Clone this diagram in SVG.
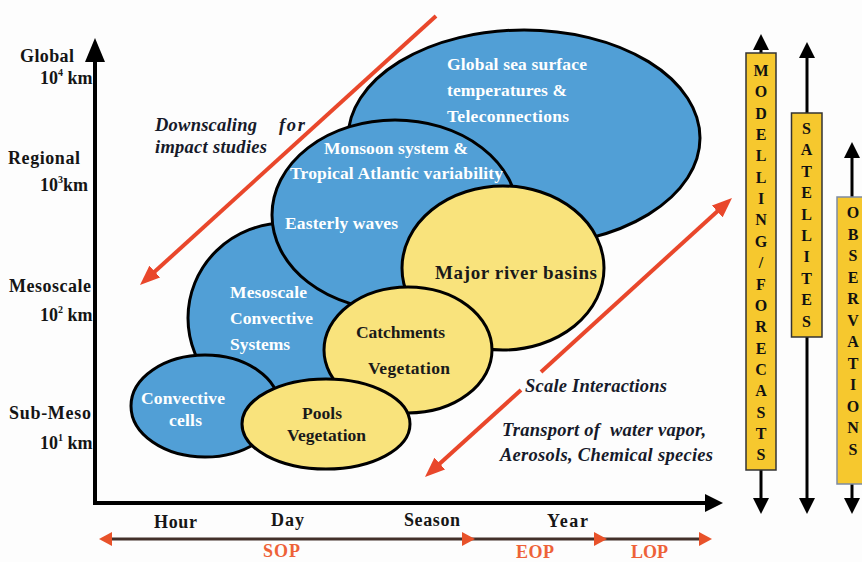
<svg xmlns="http://www.w3.org/2000/svg" width="862" height="562" viewBox="0 0 862 562">
<style>
text{font-family:"Liberation Serif","Times New Roman",serif;font-weight:bold}
.ax{font-size:18px;fill:#151515}
.sup{font-size:10px}
.wt{font-size:17.5px;fill:#ffffff}
.dk{font-size:17.5px;fill:#1a1a1a}
.it{font-size:18.5px;font-style:italic;fill:#161a2a}
.tm{font-size:18px;fill:#161616}
.pe{font-size:18px;fill:#ee6238}
.ltr{font-size:16px;fill:#111;text-anchor:middle}
.blue{fill:#519fd6;stroke:#000;stroke-width:3}
.yel{fill:#f9e37c;stroke:#000;stroke-width:3}
.bar{fill:#f6c82e;stroke:#333;stroke-width:1.5}
.red{stroke:#e9472b;stroke-width:4;fill:none}
.blk{stroke:#000;stroke-width:3;fill:none}
.axis{stroke:#000;stroke-width:4;fill:none}
</style>
<defs>
<marker id="ra" viewBox="0 0 20 16" refX="10" refY="8" markerWidth="20" markerHeight="16" markerUnits="userSpaceOnUse" orient="auto-start-reverse"><path d="M0,0 L20,8 L0,16 z" fill="#e9472b"/></marker>
<marker id="ka" viewBox="0 0 16 16" refX="6" refY="8" markerWidth="16" markerHeight="16" markerUnits="userSpaceOnUse" orient="auto-start-reverse"><path d="M0,0 L16,8 L0,16 z" fill="#000"/></marker>
</defs>
<rect width="862" height="562" fill="#fdfdfd"/>

<g id="axes">
<line class="axis" x1="95" y1="505" x2="95" y2="58"/>
<polygon points="85,62 95,38 105,62" fill="#000"/>
<line class="axis" x1="93" y1="503" x2="710" y2="503"/>
<polygon points="705,494 723,503 705,512" fill="#000"/>
</g>

<g id="y-labels">
<text class="ax" x="20" y="62" textLength="54">Global</text>
<text class="ax" x="40" y="84">10<tspan class="sup" dy="-8">4</tspan><tspan dy="8"> km</tspan></text>
<text class="ax" x="8" y="164" textLength="72">Regional</text>
<text class="ax" x="40" y="191">10<tspan class="sup" dy="-8">3</tspan><tspan dy="8">km</tspan></text>
<text class="ax" x="9" y="292" textLength="82">Mesoscale</text>
<text class="ax" x="40" y="321">10<tspan class="sup" dy="-8">2</tspan><tspan dy="8"> km</tspan></text>
<text class="ax" x="9" y="419" textLength="82">Sub-Meso</text>
<text class="ax" x="40" y="449">10<tspan class="sup" dy="-8">1</tspan><tspan dy="8"> km</tspan></text>
</g>

<g id="x-labels">
<text class="tm" x="154" y="528" textLength="43">Hour</text>
<text class="tm" x="271" y="526" textLength="33">Day</text>
<text class="tm" x="404" y="526" textLength="56">Season</text>
<text class="tm" x="547" y="527" textLength="41">Year</text>
</g>

<g id="periods">
<line x1="110" y1="539" x2="700" y2="539" stroke="#43302a" stroke-width="3"/>
<polygon points="99,539 112,532 112,546" fill="#e8522a"/>
<polygon points="462,532 475,539 462,546" fill="#e8522a"/>
<polygon points="594,532 607,539 594,546" fill="#e8522a"/>
<polygon points="699,532 712,539 699,546" fill="#e8522a"/>
<text class="pe" x="263" y="557" textLength="37">SOP</text>
<text class="pe" x="516" y="558" textLength="38">EOP</text>
<text class="pe" x="631" y="558" textLength="37">LOP</text>
</g>

<g id="global"><ellipse class="blue" cx="524" cy="138" rx="176" ry="108"/>
<text class="wt" x="447" y="70" textLength="140">Global sea surface</text>
<text class="wt" x="447" y="96" textLength="120">temperatures &amp;</text>
<text class="wt" x="447" y="122" textLength="122">Teleconnections</text></g>

<g id="mesoscale"><ellipse class="blue" cx="285" cy="318" rx="97" ry="95"/>
<text class="wt" x="230" y="298" textLength="77">Mesoscale</text>
<text class="wt" x="230" y="324" textLength="83">Convective</text>
<text class="wt" x="230" y="350" textLength="60">Systems</text></g>

<g id="monsoon"><ellipse class="blue" cx="395" cy="215" rx="123" ry="95"/>
<text class="wt" x="324" y="154" textLength="144">Monsoon system &amp;</text>
<text class="wt" x="290" y="179" textLength="213">Tropical Atlantic variability</text>
<text class="wt" x="285" y="229" textLength="113">Easterly waves</text></g>

<g id="cells"><ellipse class="blue" cx="205" cy="406" rx="74" ry="51"/>
<text class="wt" x="141" y="404" textLength="84">Convective</text>
<text class="wt" x="169" y="426" textLength="33">cells</text></g>

<g id="river"><ellipse class="yel" cx="503" cy="268" rx="101" ry="82"/>
<text class="dk" x="435" y="279" style="font-size:19px" textLength="162">Major river basins</text></g>

<g id="catchments"><ellipse class="yel" cx="408" cy="350" rx="84" ry="63"/>
<text class="dk" x="356" y="338" textLength="89">Catchments</text>
<text class="dk" x="368" y="374" textLength="82">Vegetation</text></g>

<g id="pools"><ellipse class="yel" cx="326" cy="424" rx="84" ry="45"/>
<text class="dk" x="302" y="419" textLength="40">Pools</text>
<text class="dk" x="287" y="441" textLength="79">Vegetation</text></g>

<g id="connectors">
<line class="red" x1="436" y1="16" x2="147.4" y2="278.3" marker-end="url(#ra)"/>
<line class="red" x1="724.6" y1="204.7" x2="541" y2="372" marker-start="url(#ra)"/>
<line class="red" x1="521" y1="390" x2="432.4" y2="470.3" marker-end="url(#ra)"/>
<line class="blk" x1="761" y1="53" x2="761" y2="44" marker-end="url(#ka)"/>
<line class="blk" x1="761" y1="470" x2="761" y2="504" marker-end="url(#ka)"/>
<line class="blk" x1="807" y1="113" x2="807" y2="52" marker-end="url(#ka)"/>
<line class="blk" x1="807" y1="337" x2="807" y2="504" marker-end="url(#ka)"/>
<line class="blk" x1="852" y1="197" x2="852" y2="152" marker-end="url(#ka)"/>
<line class="blk" x1="852" y1="484" x2="852" y2="504" marker-end="url(#ka)"/>
</g>

<g id="downscaling">
<text class="it" x="155" y="131" textLength="102">Downscaling</text>
<text class="it" x="279" y="131" textLength="26">for</text>
<text class="it" x="155" y="153" textLength="112">impact studies</text>
</g>

<g id="interactions">
<text class="it" x="525" y="392" textLength="142">Scale Interactions</text>
<text class="it" x="502" y="436" textLength="204" xml:space="preserve">Transport of  water vapor,</text>
<text class="it" x="500" y="461" textLength="213">Aerosols, Chemical species</text>
</g>

<g id="modelling">
<rect class="bar" x="746" y="53" width="30" height="417"/>
<text class="ltr" x="761" y="76"><tspan x="761">M</tspan><tspan x="761" dy="21.35">O</tspan><tspan x="761" dy="21.35">D</tspan><tspan x="761" dy="21.35">E</tspan><tspan x="761" dy="21.35">L</tspan><tspan x="761" dy="21.35">L</tspan><tspan x="761" dy="21.35">I</tspan><tspan x="761" dy="21.35">N</tspan><tspan x="761" dy="21.35">G</tspan><tspan x="761" dy="21.35">/</tspan><tspan x="761" dy="21.35">F</tspan><tspan x="761" dy="21.35">O</tspan><tspan x="761" dy="21.35">R</tspan><tspan x="761" dy="21.35">E</tspan><tspan x="761" dy="21.35">C</tspan><tspan x="761" dy="21.35">A</tspan><tspan x="761" dy="21.35">S</tspan><tspan x="761" dy="21.35">T</tspan><tspan x="761" dy="21.35">S</tspan></text>
</g>

<g id="satellites">
<rect class="bar" x="791.5" y="113" width="30.5" height="224"/>
<text class="ltr" x="806.5" y="134"><tspan x="806.5">S</tspan><tspan x="806.5" dy="21.4">A</tspan><tspan x="806.5" dy="21.4">T</tspan><tspan x="806.5" dy="21.4">E</tspan><tspan x="806.5" dy="21.4">L</tspan><tspan x="806.5" dy="21.4">L</tspan><tspan x="806.5" dy="21.4">I</tspan><tspan x="806.5" dy="21.4">T</tspan><tspan x="806.5" dy="21.4">E</tspan><tspan x="806.5" dy="21.4">S</tspan></text>
</g>

<g id="observations">
<rect class="bar" x="837" y="197" width="32" height="287" style="stroke:#7d8ba2"/>
<text class="ltr" x="853" y="218"><tspan x="853">O</tspan><tspan x="853" dy="21.5">B</tspan><tspan x="853" dy="21.5">S</tspan><tspan x="853" dy="21.5">E</tspan><tspan x="853" dy="21.5">R</tspan><tspan x="853" dy="21.5">V</tspan><tspan x="853" dy="21.5">A</tspan><tspan x="853" dy="21.5">T</tspan><tspan x="853" dy="21.5">I</tspan><tspan x="853" dy="21.5">O</tspan><tspan x="853" dy="21.5">N</tspan><tspan x="853" dy="21.5">S</tspan></text>
</g>
</svg>
